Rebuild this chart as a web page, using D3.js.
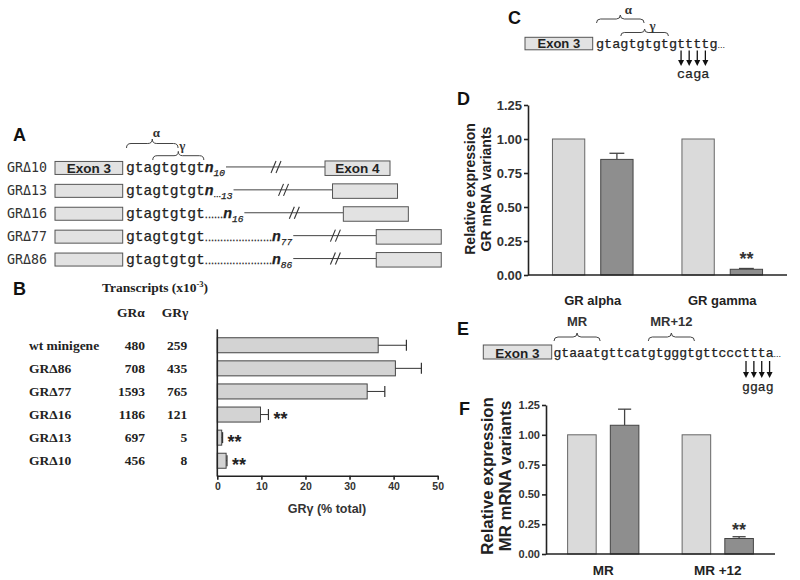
<!DOCTYPE html>
<html><head><meta charset="utf-8">
<script src="https://cdn.jsdelivr.net/npm/d3@7"></script>
<style>body{margin:0;background:#fff}</style>
</head><body>
<svg id="fig" width="800" height="580"></svg>
<script>
// ---------------- data ----------------
const constructsA = ["GRΔ10","GRΔ13","GRΔ16","GRΔ77","GRΔ86"];
const deletionsA = ["10","13","16","77","86"];
const leadDotsA = [0,0,6,22,22];
const tailDotsA = [0,3,0,0,0];
const seqA = "gtagtgtgt";

const rowsB = ["wt minigene","GRΔ86","GRΔ77","GRΔ16","GRΔ13","GRΔ10"];
const transcriptsAlpha = [480,708,1593,1186,697,456];
const transcriptsGamma = [259,435,765,121,5,8];
const gammaPct = [36.5,40.4,34.0,9.8,1.0,2.0];
const gammaErr = [6.4,5.9,4.0,1.8,0.2,0.2];
const sigB = ["","","","**","**","**"];
const xTicksB = [0,10,20,30,40,50];

const seqC = "gtagtgtgtgttttg";
const mutC = "caga";
const seqE = "gtaaatgttcatgtgggtgttcccttta";
const mutE = "ggag";

const catsD = ["GR alpha","GR gamma"];
const controlD = [1.00,1.00];
const mutantD = [0.85,0.042];
const errD = [0.045,0.006];
const sigD = ["","**"];

const catsF = ["MR","MR +12"];
const controlF = [1.00,1.00];
const mutantF = [1.08,0.13];
const errF = [0.135,0.015];
const sigF = ["","**"];

const yTicksRel = [0,0.25,0.5,0.75,1.0,1.25];

// ---------------- setup ----------------
const SANS = "'Liberation Sans', Arial, sans-serif";
const SERIF = "'Liberation Serif', 'Times New Roman', serif";
const MONO = "'Liberation Mono', 'Courier New', monospace";
const SMONO = "'DejaVu Sans Mono', monospace";
const INK = "#222";
const svg = d3.select("#fig");
svg.append("rect").attr("width",800).attr("height",580).attr("fill","#fff");

function panelLetter(t,x,y){
  svg.append("text").attr("x",x).attr("y",y).text(t)
    .attr("font-family",SANS).attr("font-weight","bold").attr("font-size",18).attr("fill","#111");
}
panelLetter("A",13,141); panelLetter("B",13,295); panelLetter("C",508,24);
panelLetter("D",457,105); panelLetter("E",457,335); panelLetter("F",459,415);

function brace(g,x1,x2,y,h){
  const xm=(x1+x2)/2, r=Math.min(h,(x2-x1)/4);
  const p=`M${x1},${y} Q${x1},${y-h} ${x1+r},${y-h} L${xm-r},${y-h} Q${xm},${y-h} ${xm},${y-2*h} Q${xm},${y-h} ${xm+r},${y-h} L${x2-r},${y-h} Q${x2},${y-h} ${x2},${y}`;
  g.append("path").attr("d",p).attr("fill","none").attr("stroke","#444").attr("stroke-width",1);
}
function arrow(g,x,y1,y2){
  g.append("line").attr("x1",x).attr("x2",x).attr("y1",y1).attr("y2",y2-5).attr("stroke","#111").attr("stroke-width",1.3);
  g.append("path").attr("d",`M${x-3},${y2-6} L${x+3},${y2-6} L${x},${y2} Z`).attr("fill","#111");
}
function box(g,x,y,w,h){
  return g.append("rect").attr("x",x).attr("y",y).attr("width",w).attr("height",h)
    .attr("fill","#e2e2e2").attr("stroke","#555").attr("stroke-width",1);
}
function boxLabel(g,t,x,y,fs){
  g.append("text").attr("x",x).attr("y",y).attr("text-anchor","middle").text(t)
    .attr("font-family",SANS).attr("font-weight","bold").attr("font-size",fs).attr("fill","#222");
}

// ---------------- Panel A ----------------
(function(){
  const g = svg.append("g");
  const yA = d3.scaleBand().domain(constructsA).range([156.5,271]).paddingInner(0.4).paddingOuter(0.2);
  const seqX = 126;
  let charW = 8.8;
  constructsA.forEach((name,i)=>{
    const c = yA(name)+yA.bandwidth()/2;
    g.append("text").attr("x",7).attr("y",c+4.5).text(name)
      .attr("font-family",SMONO).attr("font-size",13.3).attr("fill","#333");
    box(g,55,c-6.5,67.7,13);
    if(i===0) boxLabel(g,"Exon 3",55+67.7/2,c+4.8,13.5);
    const t = g.append("text").attr("x",seqX).attr("y",c+4.5)
      .attr("font-family",MONO).attr("font-size",14.6).attr("fill",INK)
      .attr("stroke",INK).attr("stroke-width",0.25);
    t.append("tspan").text(seqA);
    if(leadDotsA[i]) t.append("tspan").attr("font-family",SANS).attr("font-size",11).text(".".repeat(leadDotsA[i]));
    t.append("tspan").attr("font-weight","bold").attr("font-style","italic").text("n");
    if(tailDotsA[i]) t.append("tspan").attr("font-family",SANS).attr("font-size",9).attr("dy",2).text(".".repeat(tailDotsA[i]));
    t.append("tspan").attr("font-style","italic").attr("font-size",9.5).attr("dy",tailDotsA[i]?1.5:3.5).text(deletionsA[i]);
    if(i===0) charW = t.node().getSubStringLength(0,seqA.length)/seqA.length;
    const end = seqX + t.node().getComputedTextLength();
    const len = leadDotsA[i]>10 ? 84 : 100;
    const ly = c-1;
    g.append("line").attr("x1",end+1).attr("x2",end+len).attr("y1",ly).attr("y2",ly).attr("stroke","#444").attr("stroke-width",1);
    const m = end + len*0.49;
    [0,5].forEach(o=>g.append("line").attr("x1",m+o-3).attr("x2",m+o+2).attr("y1",ly+6).attr("y2",ly-6).attr("stroke","#333").attr("stroke-width",1.1));
    box(g,end+len,c-7,65,14.5);
    if(i===0) boxLabel(g,"Exon 4",end+len+32.5,c+5,13.5);
  });
  const xa1=seqX+0.5, xa2=seqX+6*charW-0.5, xg1=seqX+3*charW+0.5, xg2=seqX+9*charW-1;
  brace(g,xa1,xa2,148,4.5);
  brace(g,xg1,xg2,160,4.3);
  g.append("text").attr("x",(xa1+xa2)/2+4).attr("y",137).attr("text-anchor","middle").text("α")
    .attr("font-family",SERIF).attr("font-weight","bold").attr("font-size",13).attr("fill","#333");
  g.append("text").attr("x",(xg1+xg2)/2+4).attr("y",150).attr("text-anchor","middle").text("γ")
    .attr("font-family",SERIF).attr("font-weight","bold").attr("font-size",13).attr("fill","#333");
})();

// ---------------- Panel B ----------------
(function(){
  const g = svg.append("g");
  const xB = d3.scaleLinear().domain([0,50]).range([217.3,437.7]);
  const yB = d3.scaleBand().domain(rowsB).range([333.7,472.3]).paddingInner(0.35).paddingOuter(0.175);
  const serifTxt = (t,x,y,anchor)=>g.append("text").attr("x",x).attr("y",y).attr("text-anchor",anchor).text(t)
      .attr("font-family",SERIF).attr("font-weight","bold").attr("font-size",13.5).attr("fill","#222");
  const tt = serifTxt("Transcripts (x10",155,292,"middle");
  tt.append("tspan").attr("font-size",8.5).attr("dy",-5).text("-3");
  tt.append("tspan").attr("dy",5).text(")");
  serifTxt("GRα",131,317,"middle");
  serifTxt("GRγ",175,317,"middle");
  rowsB.forEach((r,i)=>{
    const c = yB(r)+yB.bandwidth()/2;
    serifTxt(r,29,c+4.5,"start");
    serifTxt(String(transcriptsAlpha[i]),145,c+4.5,"end");
    serifTxt(String(transcriptsGamma[i]),187.3,c+4.5,"end");
    const v=gammaPct[i], e=gammaErr[i];
    g.append("rect").attr("x",xB(0)).attr("y",yB(r)).attr("width",xB(v)-xB(0)).attr("height",yB.bandwidth())
      .attr("fill","#d3d3d3").attr("stroke","#444").attr("stroke-width",1);
    g.append("line").attr("x1",xB(v)).attr("x2",xB(v+e)).attr("y1",c).attr("y2",c).attr("stroke","#333").attr("stroke-width",1);
    g.append("line").attr("x1",xB(v+e)).attr("x2",xB(v+e)).attr("y1",c-5.5).attr("y2",c+5.5).attr("stroke","#333").attr("stroke-width",1.2);
    if(sigB[i]) g.append("text").attr("x",xB(v+e)+5).attr("y",c+10.5).text(sigB[i])
      .attr("font-family",SANS).attr("font-weight","bold").attr("font-size",18).attr("fill","#222");
  });
  g.append("line").attr("x1",xB(0)).attr("x2",xB(0)).attr("y1",329.3).attr("y2",476.5).attr("stroke","#222").attr("stroke-width",1.6);
  const ax = g.append("g").attr("transform","translate(0,475.7)")
    .call(d3.axisBottom(xB).tickValues(xTicksB).tickSize(4).tickSizeOuter(0).tickPadding(3));
  ax.selectAll("path,line").attr("stroke","#222").attr("stroke-width",1.6);
  ax.selectAll("text").attr("font-family",SANS).attr("font-weight","bold").attr("font-size",10.5).attr("fill","#333");
  g.append("text").attr("x",327).attr("y",512.5).attr("text-anchor","middle")
    .attr("font-family",SANS).attr("font-weight","bold").attr("font-size",12.5).attr("fill","#333").text("GRγ (% total)");
})();

// ---------------- Panels C & E (sequence schematics) ----------------
function seqPanel(o){
  const g = svg.append("g");
  box(g,o.boxX,o.boxY,o.boxW,o.boxH);
  boxLabel(g,"Exon 3",o.boxX+o.boxW/2,o.boxY+o.boxH-1.5,o.exonFs);
  const t = g.append("text").attr("x",o.seqX).attr("y",o.base).attr("font-family",MONO).attr("font-size",o.fs).attr("fill",INK)
    .attr("stroke",INK).attr("stroke-width",0.25);
  t.append("tspan").text(o.seq);
  t.append("tspan").attr("font-family",SANS).attr("font-size",9).attr("stroke","none").text("...");
  const w = t.node().getSubStringLength(0,o.seq.length)/o.seq.length;
  const cx = i=>o.seqX+(i+0.5)*w;
  o.braces.forEach(b=>{
    const x1=o.seqX+b.from*w+0.5, x2=o.seqX+b.to*w-0.5;
    brace(g,x1,x2,b.y,b.h);
    g.append("text").attr("x",(x1+x2)/2+b.dx).attr("y",b.ly).attr("text-anchor","middle").text(b.label)
      .attr("font-family",b.serif?SERIF:SANS).attr("font-weight","bold").attr("font-size",b.fs).attr("fill","#333");
  });
  o.arrowIdx.forEach(i=>arrow(g,cx(i),o.ay1,o.ay2));
  const mc = (cx(o.arrowIdx[0])+cx(o.arrowIdx[o.arrowIdx.length-1]))/2;
  g.append("text").attr("x",mc).attr("y",o.mutY).attr("text-anchor","middle").text(o.mut)
    .attr("font-family",MONO).attr("font-size",o.fs).attr("fill",INK).attr("stroke",INK).attr("stroke-width",0.25);
}
seqPanel({boxX:525,boxY:37.3,boxW:67.7,boxH:12.5,exonFs:13,seqX:596,base:47.5,fs:13.5,seq:seqC,mut:mutC,
  braces:[{from:0,to:6,y:23,h:4,label:"α",dx:8,ly:14,serif:true,fs:13},{from:3,to:9,y:36,h:3.5,label:"γ",dx:8,ly:30,serif:true,fs:13}],
  arrowIdx:[10,11,12,13],ay1:50.5,ay2:66,mutY:77.5});
seqPanel({boxX:483.3,boxY:345,boxW:68.4,boxH:14,exonFs:13.5,seqX:553.5,base:356.5,fs:13.1,seq:seqE,mut:mutE,
  braces:[{from:0,to:6,y:341,h:4,label:"MR",dx:0,ly:326,serif:false,fs:13},{from:12,to:18,y:341,h:4,label:"MR+12",dx:0,ly:326,serif:false,fs:13}],
  arrowIdx:[24,25,26,27],ay1:361,ay2:378,mutY:391});

// ---------------- Panels D & F (relative expression bars) ----------------
function relChart(o){
  const g = svg.append("g");
  const x = d3.scaleBand().domain(o.cats).range(o.xr).paddingInner(0.2).paddingOuter(0.1);
  const groupW = x.bandwidth()*0.778;
  const sub = d3.scaleBand().domain(["control","mutant"]).range([0,groupW]).paddingInner(0.331);
  const y = d3.scaleLinear().domain([0,1.25]).range(o.yr);
  o.cats.forEach((c,i)=>{
    const gx = x(c)+(x.bandwidth()-groupW)/2;
    g.append("rect").attr("x",gx+sub("control")).attr("y",y(o.ctrl[i])).attr("width",sub.bandwidth()).attr("height",y(0)-y(o.ctrl[i]))
      .attr("fill","#dadada").attr("stroke","#666").attr("stroke-width",1);
    const mx = gx+sub("mutant"), v=o.mut[i], e=o.err[i];
    const ex = mx+sub.bandwidth()/2;
    g.append("line").attr("x1",ex).attr("x2",ex).attr("y1",y(v)).attr("y2",y(v+e)).attr("stroke","#444").attr("stroke-width",1.3);
    g.append("line").attr("x1",ex-sub.bandwidth()*0.23).attr("x2",ex+sub.bandwidth()*0.23).attr("y1",y(v+e)).attr("y2",y(v+e)).attr("stroke","#444").attr("stroke-width",1.3);
    g.append("rect").attr("x",mx).attr("y",y(v)).attr("width",sub.bandwidth()).attr("height",y(0)-y(v))
      .attr("fill","#8e8e8e").attr("stroke","#444").attr("stroke-width",1);
    if(o.sig[i]) g.append("text").attr("x",ex).attr("y",y(v+e)-o.sigGap+10.4).attr("text-anchor","middle").text(o.sig[i])
      .attr("font-family",SANS).attr("font-weight","bold").attr("font-size",18).attr("fill","#333");
    g.append("text").attr("x",x(c)+x.bandwidth()/2).attr("y",o.catY).attr("text-anchor","middle").text(c)
      .attr("font-family",SANS).attr("font-weight","bold").attr("font-size",o.catFs).attr("fill","#222");
  });
  const ay = g.append("g").attr("transform",`translate(${o.xr[0]},0)`)
    .call(d3.axisLeft(y).tickValues(yTicksRel).tickFormat(d3.format(".2f")).tickSize(4).tickSizeOuter(0).tickPadding(2));
  ay.selectAll("path,line").attr("stroke","#222").attr("stroke-width",1.6);
  ay.selectAll("text").attr("font-family",SANS).attr("font-weight","bold").attr("font-size",o.tickFs).attr("fill","#333");
  g.append("line").attr("x1",o.xr[0]).attr("x2",o.xr[1]).attr("y1",y(0)).attr("y2",y(0)).attr("stroke","#222").attr("stroke-width",1.6);
  o.ylab.forEach((t,k)=>{
    g.append("text").attr("transform",`translate(${o.ylabX[k]},${o.ylabCY}) rotate(-90)`).attr("text-anchor","middle").text(t)
      .attr("font-family",SANS).attr("font-weight","bold").attr("font-size",o.ylabFs).attr("fill","#222");
  });
}
relChart({cats:catsD,ctrl:controlD,mut:mutantD,err:errD,sig:sigD,xr:[528,787],yr:[275,105],tickFs:13,catFs:13,catY:305,
  ylab:["Relative expression","GR mRNA variants"],ylabX:[475,490.5],ylabCY:189,ylabFs:14,sigGap:13.5});
relChart({cats:catsF,ctrl:controlF,mut:mutantF,err:errF,sig:sigF,xr:[546,775],yr:[554,405],tickFs:11,catFs:13.5,catY:575,
  ylab:["Relative expression","MR mRNA variants"],ylabX:[493,511],ylabCY:476,ylabFs:16.8,sigGap:10.7});
</script>
</body></html>
